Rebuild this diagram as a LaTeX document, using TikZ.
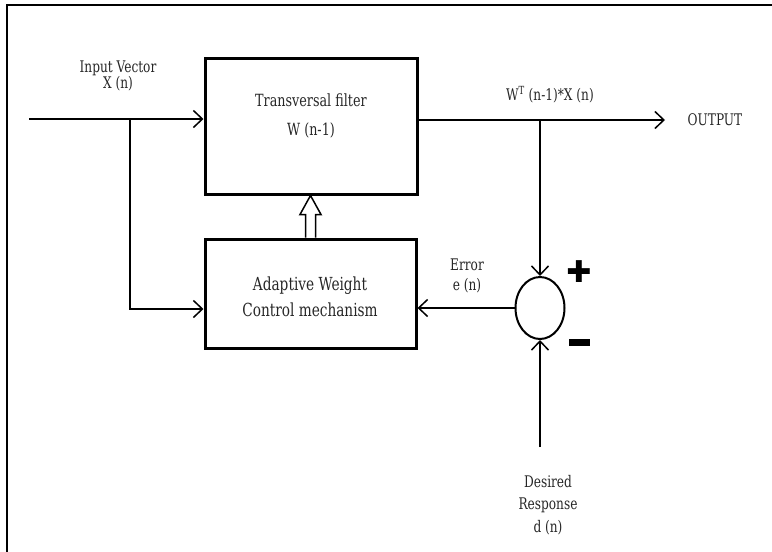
\documentclass[tikz,border=0pt]{standalone}
\usepackage{fontspec}
\setmainfont{DejaVu Serif}[FakeStretch=0.76]
\newfontfamily\symf{DejaVu Sans}
\usetikzlibrary{arrows.meta,shapes.geometric,calc}
\begin{document}
\begin{tikzpicture}[x=1pt,y=-1pt,
  box/.style={draw, line width=3pt, rectangle, inner sep=0pt},
  conn/.style={line width=1.5pt, -{Straight Barb[length=9pt,width=17pt,line width=1.5pt]}},
  hollow/.style={line width=1.5pt, fill=white, line join=miter},
  bigA/.style={font=\fontsize{16.8}{29}\selectfont, text=black!85, align=center, inner sep=0pt},
  bigB/.style={font=\fontsize{18}{26}\selectfont, text=black!85, align=center, inner sep=0pt},
  small/.style={font=\fontsize{16}{16.5}\selectfont, text=black!85, align=center, inner sep=0pt},
  smallE/.style={font=\fontsize{16}{20}\selectfont, text=black!85, align=center, inner sep=0pt},
  smallD/.style={font=\fontsize{16}{22.5}\selectfont, text=black!85, align=center, inner sep=0pt}]
\useasboundingbox (0,0) rectangle (772,552);
% frame
\draw[line width=2pt] (7,552) -- (7,5) -- (772,5);
% blocks
\node[box, minimum width=212pt, minimum height=136pt] (tf) at (311,126) {};
\node[bigA] (tft) at (311,116) {Transversal filter\\W (n-1)};
\node[box, minimum width=211pt, minimum height=109pt] (aw) at (310.5,293.5) {};
\node[bigB] (awt) at (310,297) {Adaptive Weight\\Control mechanism};
\node[draw, ellipse, line width=2pt, minimum width=49pt, minimum height=62pt, inner sep=0pt] (sum) at (540,308) {};
% hollow arrow
\coordinate (ha) at (aw.north);
\coordinate (hb) at (aw.north |- tf.south);
\draw[hollow] ($(ha)+(-5,0)$) -- ($(hb)+(-5,19)$) -- ($(hb)+(-10.5,19)$) -- (hb) -- ($(hb)+(10.5,19)$) -- ($(hb)+(5,19)$) -- ($(ha)+(5,0)$);
% coordinates
\coordinate (xin) at (29,119);
\coordinate (j1) at (130,119);
\coordinate (j1d) at (130,309);
\coordinate (oend) at (665,120);
\coordinate (j2) at (540,120);
\coordinate (dr) at (540,447);
% connectors
\draw[conn] (xin) -- (xin -| tf.west);
\draw[conn] (j1) -- (j1d) -- (j1d -| aw.west);
\draw[conn] (oend -| tf.east) -- (oend);
\draw[conn] (j2) -- (sum.north);
\draw[conn] (dr) -- (sum.south);
\draw[conn] (sum.west) -- (sum.west -| aw.east);
% labels
\node[small] (xl) at (118,76) {Input Vector\\X (n)};
\node[small] (wl) at (550,95) {W\textsuperscript{T} (n-1)*X (n)};
\node[small] (outl) at (715,120) {OUTPUT};
\node[smallE] (el) at (467,276) {Error\\e (n)};
\node[smallD] (dl) at (548,505) {Desired\\Response\\d (n)};
\node[inner sep=0pt] (plus) at (579,272) {\symf\bfseries\fontsize{30}{30}\selectfont ✚};
\node[inner sep=0pt] (minus) at (579,342) {\rule{21pt}{7pt}};
\end{tikzpicture}
\end{document}
